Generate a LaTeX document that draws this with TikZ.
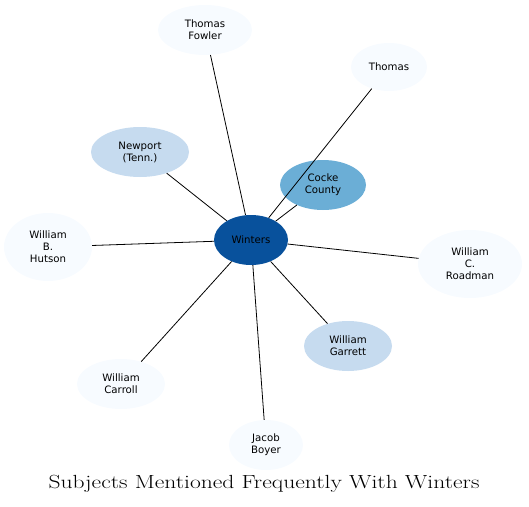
\documentclass[tikz,border=0pt]{standalone}
\usepackage{fontspec}
\newfontfamily\nodefont{DejaVu Sans}
\usetikzlibrary{shapes.geometric}

\definecolor{hubblue}{HTML}{08519C}
\definecolor{midblue}{HTML}{6BAED6}
\definecolor{paleblue}{HTML}{C6DBEF}
\definecolor{faintblue}{HTML}{F7FBFF}

\tikzset{
  subj/.style={ellipse, inner sep=0pt, align=center,
    font=\nodefont\fontsize{10.2}{12}\selectfont},
  link/.style={line width=0.8pt}
}

\begin{document}
\begin{tikzpicture}[x=1pt,y=-1pt]
\useasboundingbox (0,0) rectangle (529,506);

% -------------------------------------------------
% Nodes
% -------------------------------------------------
\node[subj, fill=hubblue, minimum width=74, minimum height=50] (winters) at (251,240) {Winters};
\node[subj, fill=midblue, minimum width=86, minimum height=50] (cocke) at (323,185) {Cocke\\County};
\node[subj, fill=faintblue, minimum width=76, minimum height=48] (thomas) at (389,67) {Thomas};
\node[subj, fill=faintblue, minimum width=94, minimum height=50] (fowler) at (205,30) {Thomas\\Fowler};
\node[subj, fill=paleblue, minimum width=98, minimum height=50] (newport) at (140,152) {Newport\\(Tenn.)};
\node[subj, fill=faintblue, minimum width=88, minimum height=68] (hutson) at (48,247) {William\\B.\\Hutson};
\node[subj, fill=faintblue, minimum width=104, minimum height=68] (roadman) at (470,264) {William\\C.\\Roadman};
\node[subj, fill=paleblue, minimum width=88, minimum height=50] (garrett) at (348,346) {William\\Garrett};
\node[subj, fill=faintblue, minimum width=88, minimum height=50] (carroll) at (121,384) {William\\Carroll};
\node[subj, fill=faintblue, minimum width=74, minimum height=50] (boyer) at (266,445) {Jacob\\Boyer};

% -------------------------------------------------
% Links
% -------------------------------------------------
\foreach \s in {thomas,cocke,fowler,newport,hutson,roadman,garrett,carroll,boyer}
  \draw[link] (winters) -- (\s);

% -------------------------------------------------
% Title
% -------------------------------------------------
\node[font=\fontsize{19}{22}\selectfont, xscale=1.24, transform shape] (title) at (264,484) {Subjects Mentioned Frequently With Winters};

\end{tikzpicture}
\end{document}
